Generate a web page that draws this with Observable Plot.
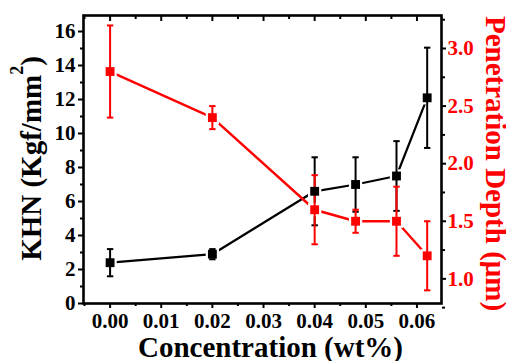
<!DOCTYPE html>
<html>
<head>
<meta charset="utf-8">
<script src="https://cdn.jsdelivr.net/npm/d3@7"></script>
<script src="https://cdn.jsdelivr.net/npm/@observablehq/plot@0.6"></script>
<style>
  html, body { margin: 0; padding: 0; background: #fff; }
  #chart svg { display: block; }
  #chart svg, #chart svg text, #chart svg tspan {
    font-family: "Liberation Serif", "Times New Roman", "DejaVu Serif", serif !important;
    font-weight: bold !important;
  }
</style>
</head>
<body>
<div id="chart"></div>
<script>
// ---- data ----
const concentration = [0.000, 0.020, 0.040, 0.048, 0.056, 0.062];
const khn          = [2.4, 2.9, 6.6, 7.0, 7.5, 12.1];
const khnErr       = [0.8, 0.3, 2.0, 1.6, 2.05, 2.95];
const depth        = [2.8, 2.4, 1.6, 1.5, 1.5, 1.2];
const depthErr     = [0.4, 0.1, 0.3, 0.1, 0.3, 0.3];

const xTicks      = [0, 0.01, 0.02, 0.03, 0.04, 0.05, 0.06];
const xMinorTicks = [-0.005, 0.005, 0.015, 0.025, 0.035, 0.045, 0.055];
const khnTicks    = [0, 2, 4, 6, 8, 10, 12, 14, 16];
const khnMinor    = [1, 3, 5, 7, 9, 11, 13, 15];
const depthTicks  = [1.0, 1.5, 2.0, 2.5, 3.0];
const depthMinor  = [0.75, 1.25, 1.75, 2.25, 2.75, 3.25];

const xTitle = "Concentration (wt%)";
const yTitle = "KHN (Kgf/mm²)";
const y2Title = "Penetration Depth (μm)";

// ---- secondary axis mapping (right axis values -> left scale units) ----
const depthToKhn = d3.scaleLinear([1.0, 3.0], [1.45, 15.0]);

const khnData = concentration.map((c, i) => ({x: c, y: khn[i], lo: khn[i] - khnErr[i], hi: khn[i] + khnErr[i]}));
const depthData = concentration.map((c, i) => ({
  x: c, y: depthToKhn(depth[i]),
  lo: depthToKhn(depth[i] - depthErr[i]), hi: depthToKhn(depth[i] + depthErr[i])
}));

const capSymbol = {draw(ctx, size) { const w = 3.2; ctx.moveTo(-w, 0); ctx.lineTo(w, 0); }};

const font = "Liberation Serif";
const RED = "#ff0000";

const chart = Plot.plot({
  width: 506,
  height: 361,
  marginTop: 15,
  marginBottom: 58,
  marginLeft: 83,
  marginRight: 65,
  style: {fontFamily: font, fontWeight: "bold", background: "#fff", color: "#000"},
  x: {domain: [-0.0052, 0.0648]},
  y: {domain: [0, 288 / 17]},
  marks: [
    // axes
    Plot.axisX({anchor: "bottom", ticks: xTicks, tickSize: 5, tickPadding: 5, strokeWidth: 2, fontSize: 21, fontFamily: font, fontWeight: "bold", tickFormat: d3.format(".2f"), label: null}),
    Plot.axisX({anchor: "bottom", ticks: xMinorTicks, tickSize: 3, strokeWidth: 2, tickFormat: () => "", label: null}),
    Plot.axisX({anchor: "top", ticks: xTicks, tickSize: -5, strokeWidth: 2, tickFormat: () => "", label: null}),
    Plot.axisX({anchor: "top", ticks: xMinorTicks, tickSize: -3, strokeWidth: 2, tickFormat: () => "", label: null}),
    Plot.axisY({anchor: "left", ticks: khnTicks, tickSize: 5, tickPadding: 3, strokeWidth: 2, fontSize: 21, fontFamily: font, fontWeight: "bold", label: null}),
    Plot.axisY({anchor: "left", ticks: khnMinor, tickSize: 3, strokeWidth: 2, tickFormat: () => "", label: null}),
    Plot.axisY({anchor: "right", ticks: depthTicks.map(depthToKhn), tickSize: 4, tickPadding: 2, strokeWidth: 2,
      fontSize: 21, fontFamily: font, fontWeight: "bold", stroke: "#000", fill: RED, tickFormat: d => d3.format(".1f")(depthToKhn.invert(d)), label: null}),
    Plot.axisY({anchor: "right", ticks: depthMinor.map(depthToKhn).filter(v => v <= 288 / 17), tickSize: 3, strokeWidth: 2, tickFormat: () => "", label: null}),
    Plot.frame({stroke: "#000", strokeWidth: 2.6}),

    // KHN series (black)
    Plot.line(khnData, {x: "x", y: "y", stroke: "#000", strokeWidth: 2.2}),
    Plot.dot(khnData, {x: "x", y: "y", symbol: "square", r: 7.5, fill: "#fff", stroke: null}),
    Plot.ruleX(khnData, {x: "x", y1: "lo", y2: "hi", stroke: "#000", strokeWidth: 2}),
    Plot.dot(khnData, {x: "x", y: "lo", symbol: capSymbol, stroke: "#000", strokeWidth: 2}),
    Plot.dot(khnData, {x: "x", y: "hi", symbol: capSymbol, stroke: "#000", strokeWidth: 2}),

    // Penetration depth series (red)
    Plot.line(depthData, {x: "x", y: "y", stroke: RED, strokeWidth: 2.4}),
    Plot.dot(depthData, {x: "x", y: "y", symbol: "square", r: 7.5, fill: "#fff", stroke: null}),
    Plot.ruleX(depthData, {x: "x", y1: "lo", y2: "hi", stroke: RED, strokeWidth: 2}),
    Plot.dot(depthData, {x: "x", y: "lo", symbol: capSymbol, stroke: RED, strokeWidth: 2}),
    Plot.dot(depthData, {x: "x", y: "hi", symbol: capSymbol, stroke: RED, strokeWidth: 2}),
    Plot.dot(depthData, {x: "x", y: "y", symbol: "square", r: 5, fill: RED, stroke: null}),

    Plot.dot(khnData, {x: "x", y: "y", symbol: "square", r: 5, fill: "#000", stroke: null}),

    // titles
    Plot.text([xTitle], {frameAnchor: "bottom", textAnchor: "middle", lineAnchor: "middle", dx: 8, dy: 44.5, fontSize: 29, fontFamily: font, fontWeight: "bold", fill: "#000"}),
    Plot.text([yTitle], {frameAnchor: "left", textAnchor: "middle", lineAnchor: "middle", dx: -52, dy: -1, rotate: -90, fontSize: 29, fontFamily: font, fontWeight: "bold", fill: "#000"}),
    Plot.text([y2Title], {frameAnchor: "right", textAnchor: "middle", lineAnchor: "middle", dx: 54, dy: 4, rotate: 90, fontSize: 29, fontFamily: font, fontWeight: "bold", fill: RED})
  ]
});

// superscript for mm²
chart.querySelectorAll("text").forEach(t => {
  if (t.textContent === yTitle) {
    t.textContent = "KHN (Kgf/mm";
    const ns = "http://www.w3.org/2000/svg";
    const sup = document.createElementNS(ns, "tspan");
    sup.setAttribute("dy", "-18");
    sup.setAttribute("font-size", "18");
    sup.textContent = "2";
    const close = document.createElementNS(ns, "tspan");
    close.setAttribute("dy", "18");
    close.textContent = ")";
    t.appendChild(sup);
    t.appendChild(close);
  }
});

document.getElementById("chart").appendChild(chart);
</script>
</body>
</html>
